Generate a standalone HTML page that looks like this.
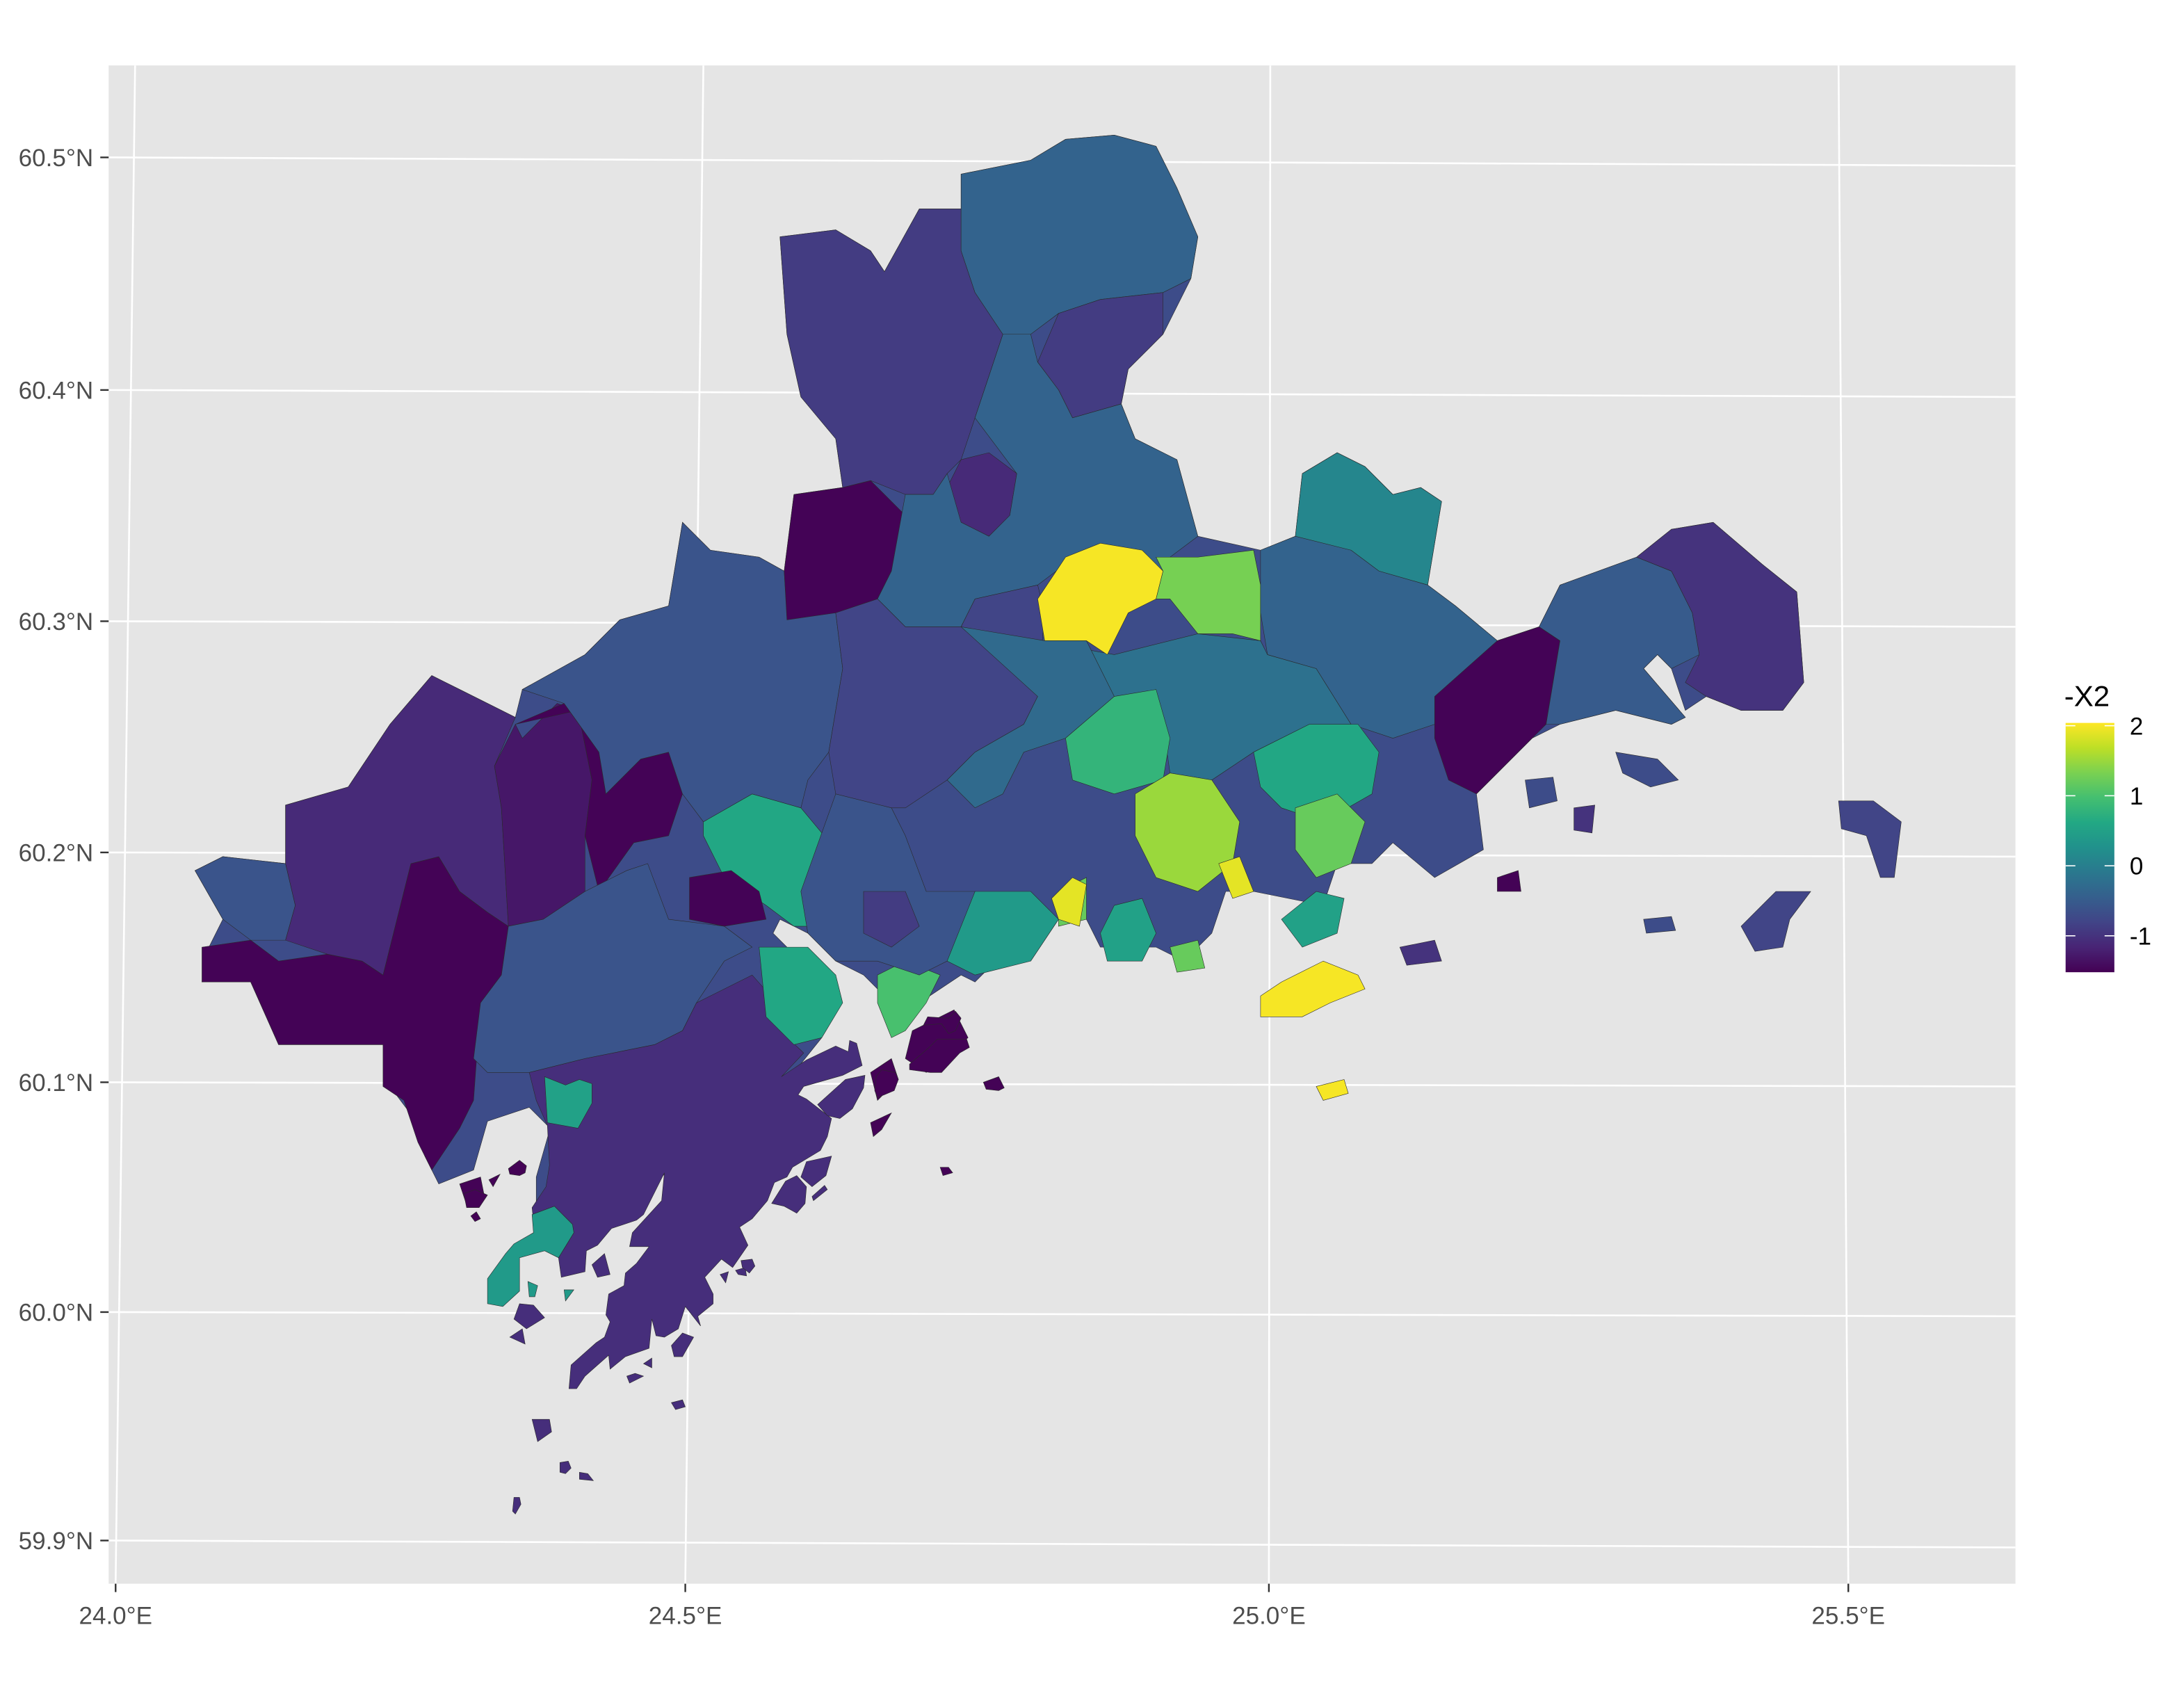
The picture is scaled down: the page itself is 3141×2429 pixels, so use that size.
<!DOCTYPE html>
<html><head><meta charset="utf-8"><style>
html,body{margin:0;padding:0;background:#fff}
svg{display:block}
text{font-family:"Liberation Sans",sans-serif}
</style></head><body>
<svg id="chart" width="3141" height="2429" viewBox="0 0 1568 1212.6" preserveAspectRatio="none" xmlns="http://www.w3.org/2000/svg">
<defs>
<linearGradient id="vg" x1="0" y1="1" x2="0" y2="0">
<stop offset="0" stop-color="#440154"/><stop offset="0.1" stop-color="#482475"/><stop offset="0.2" stop-color="#414487"/><stop offset="0.3" stop-color="#355f8d"/><stop offset="0.4" stop-color="#2a788e"/><stop offset="0.5" stop-color="#21918c"/><stop offset="0.6" stop-color="#22a884"/><stop offset="0.7" stop-color="#44bf70"/><stop offset="0.8" stop-color="#7ad151"/><stop offset="0.9" stop-color="#bddf26"/><stop offset="1" stop-color="#fde725"/>
</linearGradient>
<clipPath id="pc"><rect x="78" y="47" width="1369" height="1090"/></clipPath>
</defs>
<rect x="78" y="47" width="1369" height="1090" fill="#e5e5e5"/>
<g id="grid" clip-path="url(#pc)"></g>
<g id="map" clip-path="url(#pc)"></g>
<g id="axes"></g>
<g id="legend">
<text x="1482" y="507" font-size="21" fill="#000">-X2</text>
<rect x="1483" y="519" width="35" height="179" fill="url(#vg)"/>
</g>
</svg>
<script>
const latTicks=["60.5°N","60.4°N","60.3°N","60.2°N","60.1°N","60.0°N","59.9°N"];
const latLeftY=[113,280,446,612,777,942,1106];
const latRightY=[119,285,450,615,780,945,1111];
const lonTicks=["24.0°E","24.5°E","25.0°E","25.5°E"];
const lonBottomX=[83,492,911,1327];
const lonTopX=[97,505,912,1320];
const legendTicks=[2,1,0,-1];
const vMin=-1.52, vMax=2.04;

const regionValues=[-0.7,-1.5,-0.6,-1.1,-1.3,-1.5,-0.6,0.6,-1.5,-1.05,0.5,0.4,-0.6,-1.5,-0.9,-0.4,-0.9,-1.1,-0.4,-0.8,-0.2,2.0,1.3,0.1,-0.4,-1.5,-0.5,-1.0,-0.3,0.8,1.5,1.9,0.6,1.2,0.4,1.2,1.9,1.0,0.6,-0.6,-0.9,0.5,0.5,2.0,2.0,-1.5,-1.5,-0.7,-0.7,-0.7,-0.8,-0.8,-1.0,-1.0,-1.5,-1.5,1.2,
-1.05,-1.05,-1.05,-1.05,-1.05,-1.05,-1.05,-1.05,-1.05,-1.05,-1.05,-1.05,-1.05,-1.05,-1.05,-1.05,-1.05,-1.05,-1.5,-1.5,-1.5,-1.5,-1.5,-1.5,-1.5,-1.5,-1.5,-1.5,0.4,0.4];
const regionPaths=[
"140,625 160,615 205,620 205,578 250,565 280,520 310,485 330,495 370,515 375,495 420,470 445,445 480,435 490,375 510,395 545,400 563,410 570,355 605,350 600,315 575,285 565,240 560,170 600,165 625,180 635,195 660,150 690,150 690,125 740,115 765,100 800,97 830,105 845,135 860,170 855,200 835,240 810,265 805,290 815,315 845,330 860,385 905,395 930,385 935,340 960,325 980,335 1000,355 1020,350 1035,360 1030,390 1025,420 1045,435 1075,460 1105,450 1120,420 1175,400 1200,380 1230,375 1265,405 1290,425 1295,490 1280,510 1250,510 1225,500 1210,510 1200,480 1190,470 1180,480 1210,515 1200,520 1160,510 1120,520 1100,530 1075,555 1060,570 1065,610 1030,630 1000,605 985,620 960,620 950,650 900,640 880,640 870,670 850,690 830,680 790,680 780,660 760,660 740,690 720,685 700,705 690,700 660,720 650,700 630,710 620,700 600,690 580,670 560,660 555,670 575,690 600,700 590,745 570,770 540,800 480,840 450,870 420,880 400,890 385,880 385,845 395,810 380,795 350,805 340,840 315,850 305,830 295,800 280,780 275,750 200,750 180,705 145,705 150,680 160,660",
"145,680 180,675 200,690 235,685 260,690 275,700 295,620 315,615 330,640 350,655 365,665 360,700 345,720 340,790 330,810 310,840 300,820 290,790 275,780 275,750 200,750 180,705 145,705",
"140,625 160,615 205,620 212,650 205,675 180,675 160,660",
"205,578 250,565 280,520 310,485 330,495 370,515 355,550 360,580 365,665 350,655 330,640 315,615 295,620 275,700 260,690 235,685 205,675 212,650 205,620",
"355,550 370,520 375,530 400,505 415,510 425,560 420,600 420,640 390,660 365,665 360,580",
"370,520 405,505 430,540 435,570 460,545 480,540 490,570 480,600 455,605 430,640 420,600 425,560 415,510",
"365,665 390,660 420,640 450,625 465,620 480,660 520,665 540,680 520,690 500,720 490,740 470,750 420,760 380,770 350,770 340,760 345,720 360,700",
"505,590 540,570 575,580 600,610 610,640 595,665 570,665 550,650 520,630 505,600",
"495,630 525,625 545,640 550,660 520,665 495,660",
"380,770 420,760 470,750 490,740 500,720 540,700 548,709 560,740 575,754 577,756 561,773 579,761 600,751 609,755 610,747 615,749 619,765 605,772 577,780 573,786 579,789 597,803 594,816 589,826 569,838 565,845 556,849 551,862 540,875 531,881 537,894 526,910 518,904 506,917 512,929 512,936 501,945 503,952 492,938 487,954 477,960 471,959 468,947 466,968 449,974 438,983 437,973 420,988 414,997 408.5,997 410,980 428,964 434,960 438,949 435,944 437,929 448,923 449,914 457,907 466,895 452,895 454,885 475,862 477,842 462,872 457,876 439,882 429,894 421,898 420,913 403,917 401,903 412,885 411,879 398,866 382,872 383,877 382,867 392,852 394.5,836.5 393,808 385,790",
"391,773 406,779 416,775 425,778 425,792 415,810 393,806",
"382,872 398,866 411,879 412,885 401,903 391,898 373,903 373,927 361,938 350,936 350,918 363,900 369,893 383,885",
"375,495 420,470 445,445 480,435 490,375 510,395 545,400 563,410 565,440 600,440 605,480 595,540 580,560 575,580 540,570 505,590 490,570 480,540 460,545 435,570 430,540 405,505",
"570,355 605,350 625,345 650,370 640,410 630,430 600,440 565,445 563,410",
"560,170 600,165 625,180 635,195 660,150 690,150 690,180 700,210 720,240 710,270 700,300 690,330 680,340 670,355 650,355 625,345 605,350 600,315 575,285 565,240",
"690,125 740,115 765,100 800,97 830,105 845,135 860,170 855,200 835,210 790,215 760,225 740,240 720,240 700,210 690,180",
"760,225 790,215 835,210 835,240 810,265 805,290 770,300 760,280 745,260",
"690,330 710,325 730,340 725,370 710,385 690,375 680,350",
"650,355 670,355 680,340 690,375 710,385 725,370 730,340 700,300 710,270 720,240 740,240 745,260 760,280 770,300 805,290 815,315 845,330 860,385 840,400 830,430 800,440 780,420 765,405 745,420 700,430 690,450 650,450 630,430 640,410",
"600,440 630,430 650,450 690,450 700,430 745,420 750,440 745,500 735,520 700,540 680,560 650,580 620,580 600,570 595,540 605,480",
"745,460 800,470 860,455 905,460 910,470 945,480 970,520 940,520 900,540 870,560 840,555 835,520 800,500",
"745,430 765,400 790,390 820,395 835,410 830,430 810,440 795,470 780,460 750,460",
"830,400 860,400 900,395 905,420 905,460 885,455 860,455 840,430 830,430 835,410",
"935,340 960,325 980,335 1000,355 1020,350 1035,360 1030,390 1025,420 990,410 970,395 940,390 930,385",
"905,395 930,385 970,395 990,410 1025,420 1045,435 1075,460 1060,480 1040,500 1030,520 1000,530 970,520 945,480 910,470 905,440",
"1030,500 1075,460 1105,450 1120,460 1110,520 1100,530 1075,555 1060,570 1040,560 1030,530",
"1105,450 1120,420 1175,400 1200,410 1215,440 1220,470 1200,480 1190,470 1180,480 1210,515 1200,520 1160,510 1120,520 1110,520 1120,460",
"1175,400 1200,380 1230,375 1265,405 1290,425 1295,490 1280,510 1250,510 1225,500 1210,490 1220,470 1215,440 1200,410",
"690,450 750,460 780,460 800,500 765,530 735,540 720,570 700,580 680,560 700,540 735,520 745,500",
"765,530 800,500 830,495 840,530 835,560 800,570 770,560",
"815,570 840,555 870,560 890,590 885,620 860,640 830,630 815,600",
"875,620 890,615 900,640 885,645",
"900,540 940,520 975,520 990,540 985,570 950,590 920,580 905,565",
"930,580 960,570 980,590 970,620 945,630 930,610",
"700,640 740,640 760,660 740,690 700,700 680,690 680,650",
"760,640 780,630 780,660 760,665",
"755,645 770,630 780,635 775,665 760,660",
"630,700 650,690 675,700 665,720 650,740 640,745 630,720",
"545,680 580,680 600,700 605,720 590,745 570,750 550,730",
"600,570 640,580 650,600 665,640 700,640 680,690 660,700 630,690 600,690 580,670 575,640",
"620,640 650,640 660,665 640,680 620,670",
"800,650 820,645 830,670 820,690 795,690 790,670",
"920,660 945,640 965,645 960,670 935,680",
"920,705 950,690 975,700 980,710 955,720 935,730 905,730 905,715",
"945,780 965,775 968,785 950,790",
"655,740 685,725 695,745 665,770 650,760",
"625,770 640,760 645,775 630,790",
"1095,560 1115,558 1118,575 1098,580",
"1160,540 1190,545 1205,560 1185,565 1165,555",
"1180,660 1200,658 1203,668 1182,670",
"1250,665 1275,640 1300,640 1285,660 1280,680 1260,683",
"1320,575 1345,575 1365,590 1360,630 1350,630 1340,600 1322,595",
"1130,580 1145,578 1143,598 1130,596",
"1005,680 1030,675 1035,690 1010,693",
"1075,630 1090,625 1092,640 1075,640",
"330,850 345,845 348,860 335,865",
"840,680 860,675 865,695 845,698",
"425,908 434,900 438,915 429,917",
"373,936 383,937 391,946 378,954 369,947",
"366,960 375,954 377,965",
"382,1019 394.5,1019 396,1028 386,1035",
"402,1050 408,1049 410,1054 406,1058 402,1057",
"416,1057 422,1058 426,1063 416,1062",
"369,1075 373,1075 374,1080 370,1087 368,1085",
"450,988 456,986 462,988 452,993",
"462,979 468,975 468,982",
"482,1007 490,1005 492,1010 485,1012",
"482,966 490,957 498,960 490,974 484,974",
"517,915 523,913 521,921",
"528,912 535,910 536,916 530,915",
"532,905 540,904 542,909 538,914 533,910",
"579,834 597,830 593,844 583,852 575,845",
"554,864 564,848 572,844 579,852 578,864 572,871 563,866",
"583,859 592,851 594,854 584,862",
"587,793 607,775 621,772 620,781 612,796 603,803 594,801",
"629,773 633,768 643,770 645,775 642,783 630,788 628,783",
"653,764 667,752 673,746 694,746 696,752 689,756 676,770 668,770 653,768",
"666,730 681,731 686,726 690,731 686,740 681,742 676,735 663,736",
"625,806 640,799 633,811 627,816",
"706,777 717,773 721,781 717,783 708,782",
"675,838 681,838 684,842 677,844",
"365,839 373,833 378,837 377,842 373,844 366,843",
"333,857 341,854 350,858 344,867 335,867",
"338,873 342,870 345,875 341,877",
"351,847 359,843 354,852",
"379,920 386,923 384,931 380,931",
"405,926 412,926 406,934"
];

const svg=document.getElementById('chart');
const NS='http://www.w3.org/2000/svg';
function viridis(v){
  const st=[[68,1,84],[72,36,117],[65,68,135],[53,95,141],[42,120,142],[33,145,140],[34,168,132],[68,191,112],[122,209,81],[189,223,38],[253,231,37]];
  if(typeof v!=='number'||isNaN(v)) v=0;
  let t=(v-vMin)/(vMax-vMin);t=Math.max(0,Math.min(1,t));
  const f=t*10,i=Math.min(9,Math.floor(f)),r=f-i;
  const c=st[i].map((a,k)=>Math.round(a+(st[i+1][k]-a)*r));
  return 'rgb('+c.join(',')+')';
}
const gridG=document.getElementById('grid');
latLeftY.forEach((y,i)=>{
  const l=document.createElementNS(NS,'line');
  
  
  l.setAttribute('x1',78);l.setAttribute('y1',y);l.setAttribute('x2',1447);l.setAttribute('y2',latRightY[i]);
  l.setAttribute('stroke','#fff');l.setAttribute('stroke-width','1.3');gridG.appendChild(l);
});
lonBottomX.forEach((x,i)=>{
  const l=document.createElementNS(NS,'line');
  
  
  l.setAttribute('x1',x);l.setAttribute('y1',1137);l.setAttribute('x2',lonTopX[i]);l.setAttribute('y2',47);
  l.setAttribute('stroke','#fff');l.setAttribute('stroke-width','1.3');gridG.appendChild(l);
});
const mapG=document.getElementById('map');
regionPaths.forEach((p,i)=>{
  const g=document.createElementNS(NS,'polygon');
  
  
  g.setAttribute('points',p);
  g.setAttribute('fill',viridis(regionValues[i]));
  g.setAttribute('stroke','#2a2a2a');g.setAttribute('stroke-width','0.3');
  mapG.appendChild(g);
});
const axesG=document.getElementById('axes');
latTicks.forEach((t,i)=>{
  const y=latLeftY[i];
  const tk=document.createElementNS(NS,'line');
  
  
  tk.setAttribute('x1',72);tk.setAttribute('x2',78);tk.setAttribute('y1',y);tk.setAttribute('y2',y);
  tk.setAttribute('stroke','#333');tk.setAttribute('stroke-width','1.2');axesG.appendChild(tk);
  const tx=document.createElementNS(NS,'text');
  
  
  tx.setAttribute('x',67);tx.setAttribute('y',y+6.3);tx.setAttribute('text-anchor','end');
  tx.setAttribute('font-size','17.5');tx.setAttribute('fill','#4d4d4d');tx.textContent=t;axesG.appendChild(tx);
});
lonTicks.forEach((t,i)=>{
  const x=lonBottomX[i];
  const tk=document.createElementNS(NS,'line');
  
  
  tk.setAttribute('x1',x);tk.setAttribute('x2',x);tk.setAttribute('y1',1137);tk.setAttribute('y2',1143);
  tk.setAttribute('stroke','#333');tk.setAttribute('stroke-width','1.2');axesG.appendChild(tk);
  const tx=document.createElementNS(NS,'text');
  
  
  tx.setAttribute('x',x);tx.setAttribute('y',1166);tx.setAttribute('text-anchor','middle');
  tx.setAttribute('font-size','17.5');tx.setAttribute('fill','#4d4d4d');tx.textContent=t;axesG.appendChild(tx);
});
const legG=document.getElementById('legend');
legendTicks.forEach(v=>{
  const y=698-(v-vMin)/(vMax-vMin)*179;
  [[1483,1490],[1511,1518]].forEach(xx=>{
    const l=document.createElementNS(NS,'line');
    
    
    l.setAttribute('x1',xx[0]);l.setAttribute('x2',xx[1]);l.setAttribute('y1',y);l.setAttribute('y2',y);
    l.setAttribute('stroke','#fff');l.setAttribute('stroke-width','0.8');legG.appendChild(l);
  });
  const tx=document.createElementNS(NS,'text');
  
  
  tx.setAttribute('x',1529);tx.setAttribute('y',y+6.3);tx.setAttribute('font-size','17.5');
  tx.setAttribute('fill','#000');tx.textContent=v;legG.appendChild(tx);
});
</script>
</body></html>
